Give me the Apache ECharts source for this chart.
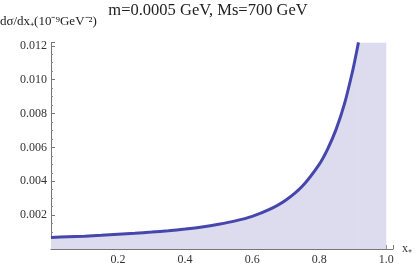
<!DOCTYPE html>
<html>
<head>
<meta charset="utf-8">
<script src="https://cdn.jsdelivr.net/npm/echarts@6/dist/echarts.min.js"></script>
<style>html,body{margin:0;padding:0;background:#fff}#c{width:416px;height:266px}</style>
</head>
<body>
<div id="c"></div>
<script>
// Values
const xValues = [0, 0.05, 0.1, 0.15, 0.2, 0.25, 0.3, 0.35, 0.4, 0.45, 0.5, 0.55, 0.6, 0.65, 0.7, 0.75, 0.8, 0.825, 0.85, 0.875, 0.9, 0.91, 0.917];
const yValues = [0.00068, 0.00072, 0.00076, 0.00081, 0.00087, 0.00093, 0.00100, 0.00108, 0.00118, 0.00130, 0.00146, 0.00166, 0.00193, 0.00232, 0.00288, 0.00372, 0.00500, 0.00590, 0.00705, 0.00855, 0.01055, 0.0115, 0.0122];
const capX = [0.916, 1.0];
const capY = [0.0122, 0.0122];
const xTicks = [0.2, 0.4, 0.6, 0.8, 1.0];
const yTicks = [0.002, 0.004, 0.006, 0.008, 0.010, 0.012];
const titleText = 'm=0.0005 GeV, Ms=700 GeV';
const yName = 'dσ/dx₊(10⁻⁹GeV⁻²)';
const xName = 'x₊';

const FONT = 'Liberation Serif';
const near = (v, arr) => arr.some(t => Math.abs(t - v) < 1e-9);

const chart = echarts.init(document.getElementById('c'), null, {renderer: 'canvas'});
chart.setOption({
  animation: false,
  backgroundColor: '#fff',
  title: [
    {text: titleText, left: 'center', top: -3,
     textStyle: {fontFamily: FONT, fontSize: 16.5, fontWeight: 'normal', color: '#222'}},
    {text: yName, left: -5, top: 10,
     textStyle: {fontFamily: FONT, fontSize: 13, fontWeight: 'normal', color: '#222'}}
  ],
  grid: {left: 51, right: 23, top: 42.4, bottom: 15, containLabel: false},
  xAxis: {
    type: 'value', min: 0, max: 1.02, interval: 0.2,
    name: xName, nameLocation: 'end', nameGap: 9,
    nameTextStyle: {fontFamily: FONT, fontSize: 12, color: '#333'},
    axisLine: {show: true, lineStyle: {color: '#777', width: 1}},
    axisTick: {show: true, inside: true, length: 4, lineStyle: {color: '#777'}},
    minorTick: {show: true, splitNumber: 4, length: 2, lineStyle: {color: '#888'}},
    splitLine: {show: false},
    axisLabel: {fontFamily: FONT, fontSize: 12, color: '#333', margin: 5,
      formatter: v => near(v, xTicks) ? v.toFixed(1) : ''}
  },
  yAxis: {
    type: 'value', min: 0, max: 0.0122, interval: 0.002,
    axisLine: {show: true, lineStyle: {color: '#777', width: 1}},
    axisTick: {show: true, inside: true, length: 4, lineStyle: {color: '#777'}},
    minorTick: {show: true, splitNumber: 4, length: 2, lineStyle: {color: '#888'}},
    splitLine: {show: false},
    axisLabel: {fontFamily: FONT, fontSize: 12, color: '#333', margin: 4,
      formatter: v => near(v, yTicks) ? v.toFixed(3) : ''}
  },
  series: [
    {type: 'line', data: capX.map((x, i) => [x, capY[i]]), symbol: 'none',
     lineStyle: {width: 0, opacity: 0}, areaStyle: {color: '#dcdcee', opacity: 1}, z: 1},
    {type: 'line', data: xValues.map((x, i) => [x, yValues[i]]), symbol: 'none',
     smooth: 0.3,
     lineStyle: {color: '#4646ac', width: 3}, areaStyle: {color: '#dcdcee', opacity: 1}, z: 3}
  ]
});
</script>
</body>
</html>
